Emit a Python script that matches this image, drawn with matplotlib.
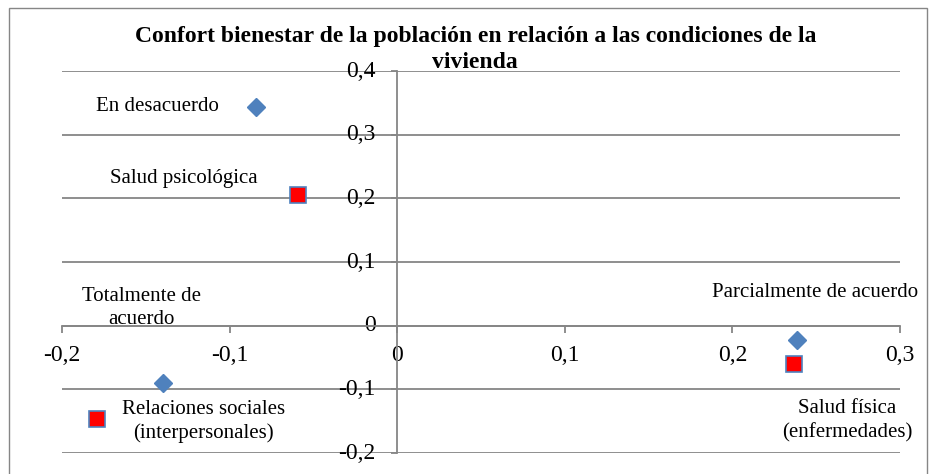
import matplotlib.pyplot as plt
from matplotlib.patches import Rectangle
from matplotlib.ticker import FuncFormatter

plt.rcParams['font.family'] = ['Liberation Serif', 'DejaVu Serif']

title = 'Confort bienestar de la población en relación a las condiciones de la\nvivienda'

# blue diamonds (level of agreement)
acuerdo_labels = ['En desacuerdo', 'Totalmente de\nacuerdo', 'Parcialmente de acuerdo']
acuerdo_x = [-0.084, -0.1395, 0.2385]
acuerdo_y = [0.344, -0.0895, -0.022]

# red squares (wellbeing dimensions)
salud_labels = ['Salud psicológica', 'Relaciones sociales\n(interpersonales)',
                'Salud física\n(enfermedades)']
salud_x = [-0.059, -0.179, 0.237]
salud_y = [0.2056, -0.146, -0.0597]

# label offsets in points and alignment
acuerdo_off = [(-27, 0, 'right'), (-16, 54, 'center'), (13, 34, 'center')]
salud_off = [(-29, 12, 'right'), (18, -2, 'left'), (38, -41, 'center')]

xticks = [-0.2, -0.1, 0.0, 0.1, 0.2, 0.3]
yticks = [-0.2, -0.1, 0.0, 0.1, 0.2, 0.3, 0.4]

grey = '#868686'

fig = plt.figure(figsize=(9.32, 4.74), dpi=100)
ax = fig.add_axes([0.0665, 0.0443, 0.8992, 0.8057])

ax.set_xlim(-0.2, 0.3)
ax.set_ylim(-0.2, 0.4)
ax.set_xticks(xticks)
ax.set_yticks(yticks)

fmt = FuncFormatter(lambda v, p: ('%g' % round(v, 2)).replace('.', ','))
ax.xaxis.set_major_formatter(fmt)
ax.yaxis.set_major_formatter(fmt)

for s in ['top', 'right']:
    ax.spines[s].set_visible(False)
ax.spines['left'].set_position(('data', 0))
ax.spines['bottom'].set_position(('data', 0))
ax.spines['left'].set_color(grey)
ax.spines['bottom'].set_color(grey)
ax.spines['left'].set_linewidth(1.3)
ax.spines['bottom'].set_linewidth(1.3)

ax.yaxis.grid(True, color=grey, lw=1.3)
ax.set_axisbelow(True)

ax.tick_params(axis='x', length=5, width=1.3, color=grey, pad=9, labelsize=17)
ax.tick_params(axis='y', length=4.5, width=1.3, color=grey, pad=11, labelsize=17)
for lab in ax.get_yticklabels():
    lab.set_verticalalignment('center')

ax.plot(acuerdo_x, acuerdo_y, 'D', color='#4F81BD', ms=9, ls='none', zorder=3)
ax.plot(salud_x, salud_y, 's', mfc='red', mec='#4F81BD', mew=1.2, ms=11,
        ls='none', zorder=3)

for txt, x, y, (dx, dy, ha) in zip(acuerdo_labels, acuerdo_x, acuerdo_y, acuerdo_off):
    ax.annotate(txt, (x, y), xytext=(dx, dy), textcoords='offset points',
                ha=ha, va='center', multialignment='center', fontsize=15,
                linespacing=1.3)
for txt, x, y, (dx, dy, ha) in zip(salud_labels, salud_x, salud_y, salud_off):
    ax.annotate(txt, (x, y), xytext=(dx, dy), textcoords='offset points',
                ha=ha, va='center', multialignment='center', fontsize=15,
                linespacing=1.3)

# title on two lines, each its own text
for line, ty in zip(title.split('\n'), [0.922, 0.868]):
    fig.text(0.51, ty, line, ha='center', va='center', fontsize=17,
             fontweight='bold')

fig.patches.append(Rectangle((0.0097, -0.02), 0.985, 1.003, transform=fig.transFigure,
                             fill=False, ec=grey, lw=1))

fig.savefig('out.png', dpi=100)
